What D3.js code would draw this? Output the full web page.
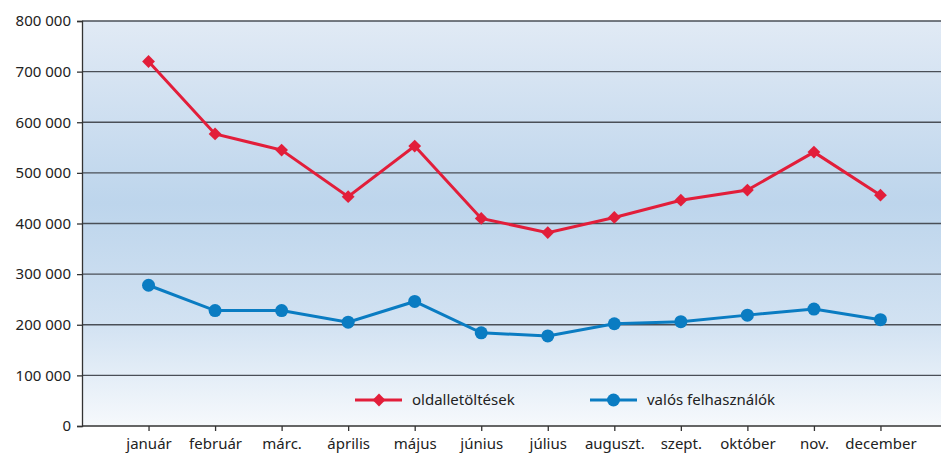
<!DOCTYPE html>
<html>
<head>
<meta charset="utf-8">
<script src="https://cdn.jsdelivr.net/npm/d3@7"></script>
<style>
  body { margin: 0; background: #fff; }
  svg { display: block; font-family: "Noto Sans", sans-serif; }
</style>
</head>
<body>
<div id="chart"></div>
<script>
// --- Data ---
const months = ["január", "február", "márc.", "április", "május", "június",
                "július", "auguszt.", "szept.", "október", "nov.", "december"];
const pageLoads = [720000, 577000, 545000, 453000, 553000, 410000,
                   382000, 412000, 446000, 466000, 541000, 456000];
const realUsers = [278000, 228000, 228000, 205000, 246000, 184000,
                   178000, 202000, 206000, 219000, 231000, 210000];
const yTicks = [0, 100000, 200000, 300000, 400000, 500000, 600000, 700000, 800000];
const seriesNames = ["oldalletöltések", "valós felhasználók"];

const width = 941, height = 466;
const margin = { top: 21, right: -6, bottom: 40, left: 82 };

const svg = d3.create("svg")
    .attr("width", width)
    .attr("height", height);

// background gradient
const defs = svg.append("defs");
const grad = defs.append("linearGradient")
    .attr("id", "bg")
    .attr("x1", 0).attr("y1", 0).attr("x2", 0).attr("y2", 1);
grad.append("stop").attr("offset", "0%").attr("stop-color", "#e1eaf5");
grad.append("stop").attr("offset", "45%").attr("stop-color", "#bdd5ec");
grad.append("stop").attr("offset", "75%").attr("stop-color", "#d2e2f2");
grad.append("stop").attr("offset", "100%").attr("stop-color", "#f6f9fc");

// Scales
const x = d3.scalePoint()
    .domain(months)
    .range([margin.left, width - margin.right])
    .padding(1);

const y = d3.scaleLinear()
    .domain([0, 800000])
    .range([height - margin.bottom, margin.top]);

const fmt = d => d3.format(",")(d).replace(/,/g, " ");

svg.append("rect")
    .attr("x", margin.left)
    .attr("y", y(800000))
    .attr("width", width - margin.left)
    .attr("height", y(0) - y(800000))
    .attr("fill", "url(#bg)");

// Gridlines
svg.append("g")
    .selectAll("line")
    .data(yTicks.filter(d => d > 0))
    .join("line")
    .attr("x1", margin.left)
    .attr("x2", width)
    .attr("y1", d => y(d))
    .attr("y2", d => y(d))
    .attr("stroke", "#4a4f57")
    .attr("stroke-width", 1.3);

// Axes
const yAxis = svg.append("g")
    .attr("transform", `translate(${margin.left},0)`)
    .call(d3.axisLeft(y).tickValues(yTicks).tickFormat(fmt).tickSize(5).tickPadding(6));
yAxis.select(".domain").attr("stroke", "#333").attr("stroke-width", 1.3);
yAxis.selectAll(".tick line").attr("stroke", "#333").attr("stroke-width", 1.3);
yAxis.selectAll("text").attr("font-size", "15px").attr("fill", "#222")
    .attr("font-family", "'Noto Sans', sans-serif");

const xAxis = svg.append("g")
    .attr("transform", `translate(0,${y(0)})`)
    .call(d3.axisBottom(x).tickSize(5).tickPadding(7).tickSizeOuter(0));
xAxis.select(".domain").attr("stroke", "#333").attr("stroke-width", 1.3)
    .attr("d", `M${margin.left},0H${width}`);
xAxis.selectAll(".tick line").attr("stroke", "#333").attr("stroke-width", 1.3);
xAxis.selectAll("text").attr("font-size", "15px").attr("fill", "#222")
    .attr("font-family", "'Noto Sans', sans-serif");

// Lines
const line = d3.line()
    .x((d, i) => x(months[i]))
    .y(d => y(d));

const red = "#e21e3a", blue = "#0a7cc2";

svg.append("path")
    .datum(pageLoads)
    .attr("fill", "none")
    .attr("stroke", red)
    .attr("stroke-width", 3)
    .attr("d", line);

svg.append("path")
    .datum(realUsers)
    .attr("fill", "none")
    .attr("stroke", blue)
    .attr("stroke-width", 3)
    .attr("d", line);

const diamond = d3.symbol().type(d3.symbolSquare).size(82);

svg.append("g")
    .selectAll("path")
    .data(pageLoads)
    .join("path")
    .attr("d", diamond)
    .attr("transform", (d, i) => `translate(${x(months[i])},${y(d)}) rotate(45)`)
    .attr("fill", red);

svg.append("g")
    .selectAll("circle")
    .data(realUsers)
    .join("circle")
    .attr("cx", (d, i) => x(months[i]))
    .attr("cy", d => y(d))
    .attr("r", 6.5)
    .attr("fill", blue);

// Legend
const legendItems = [
    { name: seriesNames[0], color: red, shape: "diamond", x: 355 },
    { name: seriesNames[1], color: blue, shape: "circle", x: 590 }
];
const legend = svg.append("g").attr("transform", `translate(0,400)`);
legendItems.forEach(item => {
    const g = legend.append("g").attr("transform", `translate(${item.x},0)`);
    g.append("line")
        .attr("x1", 0).attr("x2", 47)
        .attr("stroke", item.color)
        .attr("stroke-width", 3);
    if (item.shape === "diamond") {
        g.append("path").attr("d", diamond)
            .attr("transform", "translate(24,0) rotate(45)")
            .attr("fill", item.color);
    } else {
        g.append("circle").attr("cx", 23.5).attr("r", 6.5).attr("fill", item.color);
    }
    g.append("text")
        .attr("x", 57)
        .attr("y", 5)
        .attr("font-size", "15px")
        .attr("fill", "#222")
        .attr("font-family", "'Noto Sans', sans-serif")
        .text(item.name);
});

d3.select("#chart").node().appendChild(svg.node());
</script>
</body>
</html>
